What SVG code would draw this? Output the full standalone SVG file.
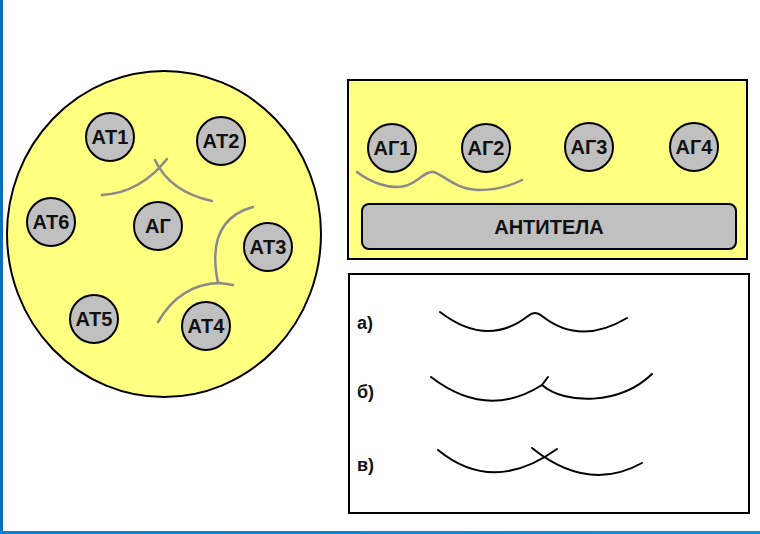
<svg xmlns="http://www.w3.org/2000/svg" width="760" height="534" viewBox="0 0 760 534">
<defs>
<linearGradient id="bb" x1="0" y1="0" x2="1" y2="0">
<stop offset="0" stop-color="#0a80d8"/>
<stop offset="1" stop-color="#0a90e0"/>
</linearGradient>
</defs>
<style>
.node circle{fill:#c0c0c0;stroke:#000;stroke-width:2}
.node text,.lbl{font-family:"Liberation Sans",Arial,sans-serif;font-weight:bold;fill:#111;text-anchor:middle}
.node text{font-size:20px}
.lbl{font-size:18px;text-anchor:start}
.gray{fill:none;stroke:#8a8a8a;stroke-width:2.5;stroke-linecap:round}
.blk{fill:none;stroke:#000;stroke-width:2;stroke-linecap:round;stroke-linejoin:round}
</style>
<rect x="0" y="0" width="760" height="534" fill="#fff"/>
<rect x="0" y="0" width="3" height="534" fill="#0a6fc0"/>
<rect x="0" y="531" width="760" height="3" fill="url(#bb)"/>

<g id="big-circle">
<ellipse cx="164" cy="234" rx="157" ry="163" fill="#ffff80" stroke="#000" stroke-width="2"/>
</g>
<g id="AT1" class="node"><circle cx="110" cy="137" r="24"/><text x="110" y="144">АТ1</text></g>
<g id="AT2" class="node"><circle cx="221" cy="141" r="24"/><text x="221" y="148">АТ2</text></g>
<g id="AG" class="node"><circle cx="158" cy="226" r="24"/><text x="158" y="233">АГ</text></g>
<g id="AT3" class="node"><circle cx="268" cy="247" r="24"/><text x="268" y="254">АТ3</text></g>
<g id="AT6" class="node"><circle cx="51" cy="222" r="24"/><text x="51" y="229">АТ6</text></g>
<g id="AT5" class="node"><circle cx="94" cy="319" r="24"/><text x="94" y="326">АТ5</text></g>
<g id="AT4" class="node"><circle cx="206" cy="326" r="24"/><text x="206" y="333">АТ4</text></g>

<g id="top-panel">
<rect x="348" y="80" width="399" height="179" fill="#ffff80" stroke="#000" stroke-width="2"/>
</g>
<g id="AG1" class="node"><circle cx="392" cy="148" r="24"/><text x="392" y="155">АГ1</text></g>
<g id="AG2" class="node"><circle cx="486" cy="148" r="24"/><text x="486" y="155">АГ2</text></g>
<g id="AG3" class="node"><circle cx="589" cy="147" r="24"/><text x="589" y="154">АГ3</text></g>
<g id="AG4" class="node"><circle cx="694" cy="147" r="24"/><text x="694" y="154">АГ4</text></g>
<g id="antibodies" class="node">
<rect x="362" y="204" width="374" height="45" rx="7" fill="#c0c0c0" stroke="#000" stroke-width="2"/>
<text x="549" y="234">АНТИТЕЛА</text>
</g>

<g id="bottom-panel">
<rect x="349" y="274" width="400" height="239" fill="#fff" stroke="#000" stroke-width="2"/>
<text class="lbl" x="357" y="329">а)</text>
<text class="lbl" x="357" y="398">б)</text>
<text class="lbl" x="357" y="471">в)</text>
</g>

<g id="connectors">
<path class="gray" d="M102,195 Q140,193 167,159"/>
<path class="gray" d="M155,160 Q170,192 212,201"/>
<path class="gray" d="M253,207 Q205,220 218,283"/>
<path class="gray" d="M233,285 L220,283 Q180,284 158,322"/>
<path class="gray" d="M357,172 C370,182 390,190 405,186 C418,183 424,171 433,172 C442,173 455,190 480,190 C498,190 510,186 522,180"/>
<path class="blk" d="M440,312 Q487,348 528,316 Q535,310 542,316 Q580,346 627,318"/>
<path class="blk" d="M431,377 Q487,420 542,385"/>
<path class="blk" d="M548,377 L542,385 C565,405 620,405 652,374"/>
<path class="blk" d="M438,450 Q493,495 557,449"/>
<path class="blk" d="M532,448 Q588,493 642,463"/>
</g>
</svg>
